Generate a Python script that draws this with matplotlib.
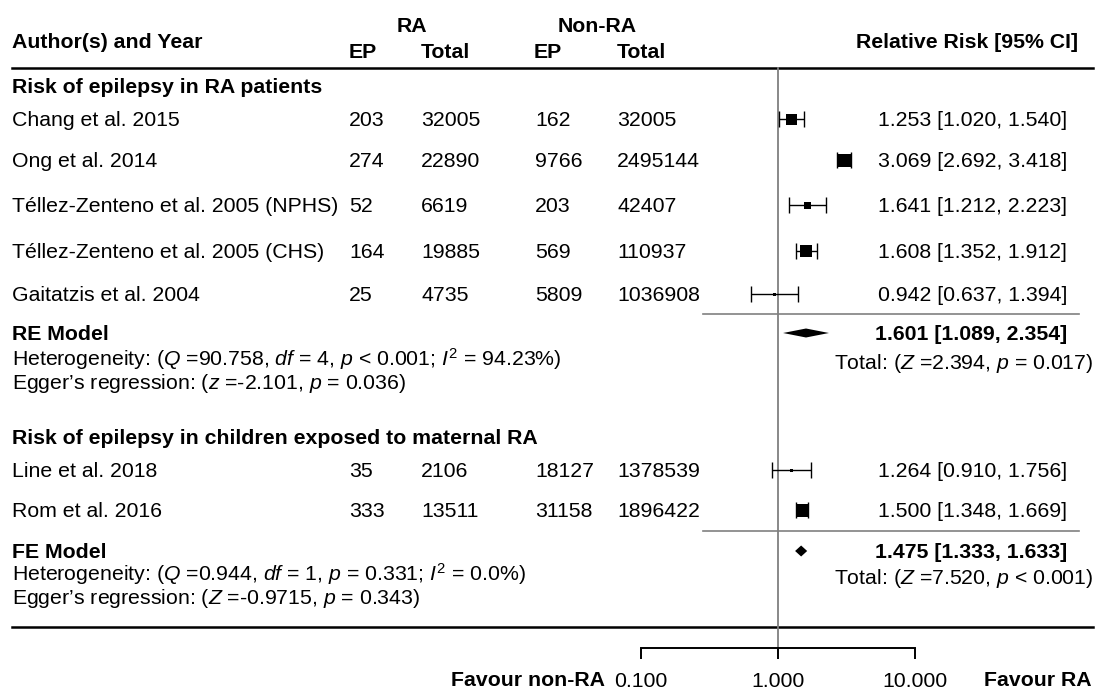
import numpy as np
import matplotlib.pyplot as plt
from matplotlib.ticker import NullLocator

plt.rcParams['font.family'] = 'Liberation Sans'
plt.rcParams['mathtext.fontset'] = 'custom'
plt.rcParams['mathtext.rm'] = 'Liberation Sans'
plt.rcParams['mathtext.it'] = 'Liberation Sans:italic'
plt.rcParams['mathtext.bf'] = 'Liberation Sans:bold'

#%% data
studies = ["Chang et al. 2015", "Ong et al. 2014",
           "Téllez-Zenteno et al. 2005 (NPHS)", "Téllez-Zenteno et al. 2005 (CHS)",
           "Gaitatzis et al. 2004", "Line et al. 2018", "Rom et al. 2016"]
ra_ep = [203, 274, 52, 164, 25, 35, 333]
ra_total = [32005, 22890, 6619, 19885, 4735, 2106, 13511]
non_ep = [162, 9766, 203, 569, 5809, 18127, 31158]
non_total = [32005, 2495144, 42407, 110937, 1036908, 1378539, 1896422]
rr = np.array([1.253, 3.069, 1.641, 1.608, 0.942, 1.264, 1.500])
rr_lo = np.array([1.020, 2.692, 1.212, 1.352, 0.637, 0.910, 1.348])
rr_hi = np.array([1.540, 3.418, 2.223, 1.912, 1.394, 1.756, 1.669])

groups = ["Risk of epilepsy in RA patients",
          "Risk of epilepsy in children exposed to maternal RA"]
models = ["RE Model", "FE Model"]
model_rr = [1.601, 1.475]
model_lo = [1.089, 1.333]
model_hi = [2.354, 1.633]
het_text = [r"Heterogeneity: ($\mathit{Q}$ =90.758, $\mathit{df}$ = 4, $\mathit{p}$ < 0.001; $\mathit{I}^2$ = 94.23%)",
            r"Heterogeneity: ($\mathit{Q}$ =0.944, $\mathit{df}$ = 1, $\mathit{p}$ = 0.331; $\mathit{I}^2$ = 0.0%)"]
egger_text = [r"Egger’s regression: ($\mathit{z}$ =-2.101, $\mathit{p}$ = 0.036)",
              r"Egger’s regression: ($\mathit{Z}$ =-0.9715, $\mathit{p}$ = 0.343)"]
total_text = [r"Total: ($\mathit{Z}$ =2.394, $\mathit{p}$ = 0.017)",
              r"Total: ($\mathit{Z}$ =7.520, $\mathit{p}$ < 0.001)"]
xticks = [0.1, 1, 10]

#%% layout (pixel rows)
W, H = 1095, 693
row_y = [119, 160, 205, 251, 294, 470, 510]
box_px = [11, 13, 7, 12, 3, 3, 13]
group_y = [86, 437]
model_y = [333, 551]
het_y = [359, 574]
egger_y = [382, 597]
sep_y = [314, 531]
fs = 15.3

fig = plt.figure(figsize=(W / 100, H / 100), dpi=100)
ax = fig.add_axes([0, 0, 1, 1])
ax.set_xlim(0, W)
ax.set_ylim(H, 0)
ax.axis('off')

def txt(x, y, s, ha='left', bold=False):
    ax.text(x, y + 7, s, ha=ha, va='baseline', fontsize=fs,
            fontweight='bold' if bold else 'normal')

# header
txt(12, 41, "Author(s) and Year", bold=True)
txt(412, 25, "RA", ha='center', bold=True)
txt(597, 25, "Non-RA", ha='center', bold=True)
for x, s in [(349, "EP"), (421, "Total"), (534, "EP"), (617, "Total")]:
    txt(x, 51, s, bold=True)
txt(1078, 41, "Relative Risk [95% CI]", ha='right', bold=True)
ax.plot([12, 1093], [67.5, 67.5], color='black', lw=1.8)
ax.plot([12, 1093], [627, 627], color='black', lw=1.8)

# study rows
for i, y in enumerate(row_y):
    txt(12, y, studies[i])
    txt(349, y, str(ra_ep[i]))
    txt(421, y, str(ra_total[i]))
    txt(535, y, str(non_ep[i]))
    txt(617, y, str(non_total[i]))
    txt(1067, y, f"{rr[i]:.3f} [{rr_lo[i]:.3f}, {rr_hi[i]:.3f}]", ha='right')

for g in range(2):
    txt(12, group_y[g], groups[g], bold=True)
    txt(12, model_y[g], models[g], bold=True)
    txt(12, het_y[g], het_text[g])
    txt(12, egger_y[g], egger_text[g])
    txt(1067, model_y[g], f"{model_rr[g]:.3f} [{model_lo[g]:.3f}, {model_hi[g]:.3f}]",
        ha='right', bold=True)
    txt(1093, het_y[g] + 3, total_text[g], ha='right')
    ax.plot([703, 1079], [sep_y[g], sep_y[g]], color='#808080', lw=1.2)

txt(605, 679, "Favour non-RA", ha='right', bold=True)
txt(1092, 679, "Favour RA", ha='right', bold=True)

#%% forest panel (log scale)
axf = fig.add_axes([641 / W, 0, (915 - 641) / W, 1])
axf.patch.set_visible(False)
axf.set_xscale('log')
axf.set_xlim(0.1, 10)
axf.set_ylim(H, 0)
for side in ['top', 'left', 'right']:
    axf.spines[side].set_visible(False)
axf.spines['bottom'].set_position(('data', 648))
axf.spines['bottom'].set_linewidth(1.4)
axf.set_yticks([])
axf.set_xticks(xticks)
axf.set_xticklabels([f"{t:.3f}" for t in xticks])
axf.xaxis.set_minor_locator(NullLocator())
axf.tick_params(axis='x', length=8, width=1.4, labelsize=fs, pad=9)

axf.plot([1, 1], [68, 648], color='#7f7f7f', lw=1.3, zorder=1)

axf.errorbar(rr, row_y, xerr=[rr - rr_lo, rr_hi - rr], fmt='none',
             ecolor='black', elinewidth=1, capsize=5.5, capthick=1, zorder=2)
axf.scatter(rr, row_y, marker='s', s=(np.array(box_px) * 0.72) ** 2,
            color='black', linewidths=0, zorder=3)

dh = [4.5, 5.5]
for g in range(2):
    y = model_y[g]
    axf.fill([model_lo[g], model_rr[g], model_hi[g], model_rr[g]],
             [y, y - dh[g], y, y + dh[g]], color='black', lw=0, zorder=3)

fig.savefig('out.png', dpi=100)
